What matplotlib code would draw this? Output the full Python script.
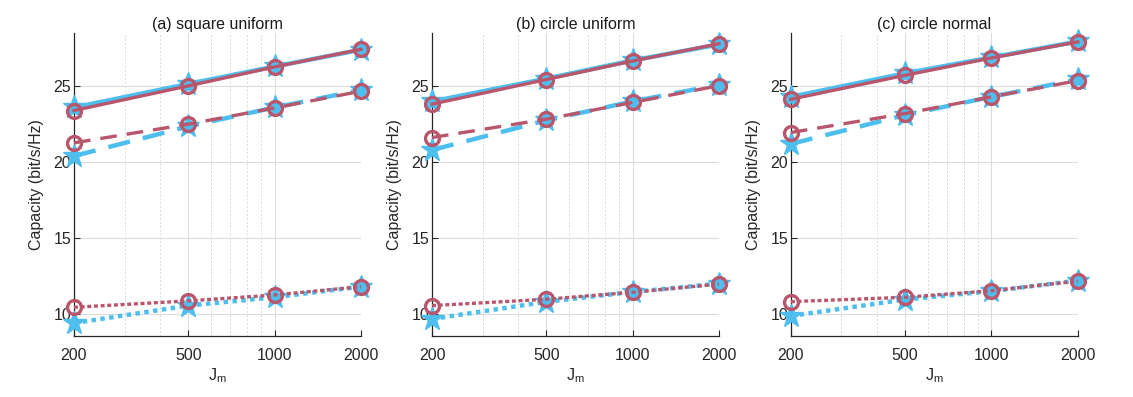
import matplotlib
matplotlib.use('Agg')
import matplotlib.pyplot as plt
from matplotlib.ticker import FixedLocator, NullFormatter

plt.rcParams['font.family'] = ['Liberation Sans', 'DejaVu Sans']

# Datos
J = [200, 500, 1000, 2000]
titulos = ['(a) square uniform', '(b) circle uniform', '(c) circle normal']

# azul (estrela) e vermelho (circulo), tres curvas por painel: solida, tracejada, pontilhada
azul = [
    [[23.6, 25.15, 26.3, 27.4], [20.4, 22.35, 23.6, 24.75], [9.4, 10.55, 11.1, 11.8]],
    [[24.0, 25.5, 26.7, 27.75], [20.8, 22.75, 24.0, 25.1], [9.67, 10.8, 11.45, 12.0]],
    [[24.3, 25.85, 26.9, 27.95], [21.2, 23.1, 24.3, 25.45], [9.87, 10.95, 11.5, 12.2]],
]
vermelho = [
    [[23.4, 25.02, 26.27, 27.43], [21.27, 22.5, 23.57, 24.67], [10.44, 10.86, 11.25, 11.8]],
    [[23.82, 25.44, 26.66, 27.8], [21.62, 22.83, 23.93, 25.04], [10.55, 10.97, 11.43, 11.97]],
    [[24.14, 25.72, 26.86, 27.92], [21.95, 23.2, 24.3, 25.37], [10.81, 11.1, 11.53, 12.17]],
]

cor_azul = '#4DBEEE'
cor_verm = '#B9566B'
estilos = ['-', (0, (5, 3)), (0, (1, 1))]
estilos_v = ['-', (0, (5, 3)), (0, (1.2, 0.8))]

fig = plt.figure(figsize=(11.33, 3.97), dpi=100)
lefts = [0.0653, 0.3813, 0.698]

for k in range(3):
    ax = fig.add_axes([lefts[k], 0.1537, 0.2533, 0.763])
    for s in range(3):
        ax.plot(J, azul[k][s], linestyle=estilos[s], color=cor_azul, linewidth=3.2,
                marker='*', markersize=17, markerfacecolor=cor_azul,
                markeredgecolor=cor_azul, clip_on=False, zorder=3)
        ax.plot(J, vermelho[k][s], linestyle=estilos_v[s], color=cor_verm, linewidth=2.4,
                marker='o', markersize=10, markerfacecolor='none',
                markeredgecolor=cor_verm, markeredgewidth=2.4, clip_on=False, zorder=4)

    ax.set_xscale('log')
    ax.set_xlim(200, 2000)
    ax.set_ylim(8.55, 28.5)
    ax.xaxis.set_major_locator(FixedLocator(J))
    ax.set_xticklabels([str(v) for v in J])
    ax.xaxis.set_minor_locator(FixedLocator([300, 400, 600, 700, 800, 900]))
    ax.xaxis.set_minor_formatter(NullFormatter())
    ax.set_yticks([10, 15, 20, 25])

    ax.grid(True, which='major', color='#dcdcdc', linewidth=0.8)
    ax.grid(True, which='minor', axis='x', color='#d8d8d8', linestyle=(0, (2, 2)), linewidth=0.7)
    ax.set_axisbelow(True)

    ax.spines['top'].set_visible(False)
    ax.spines['right'].set_visible(False)
    for lado in ['left', 'bottom']:
        ax.spines[lado].set_color('#262626')
        ax.spines[lado].set_linewidth(0.9)
    ax.tick_params(which='both', direction='in', colors='#262626', labelsize=11.5,
                   length=4, pad=9)
    ax.tick_params(which='minor', length=0)
    ax.tick_params(axis='y', pad=2)

    ax.set_title(titulos[k], fontsize=11.5, color='#1a1a1a', pad=3)
    ax.set_xlabel('J$_\\mathregular{m}$', fontsize=11.5, color='#262626', labelpad=2)
    ax.set_ylabel('Capacity (bit/s/Hz)', fontsize=11.5, color='#262626', labelpad=7)

fig.savefig('out.png', dpi=100)
